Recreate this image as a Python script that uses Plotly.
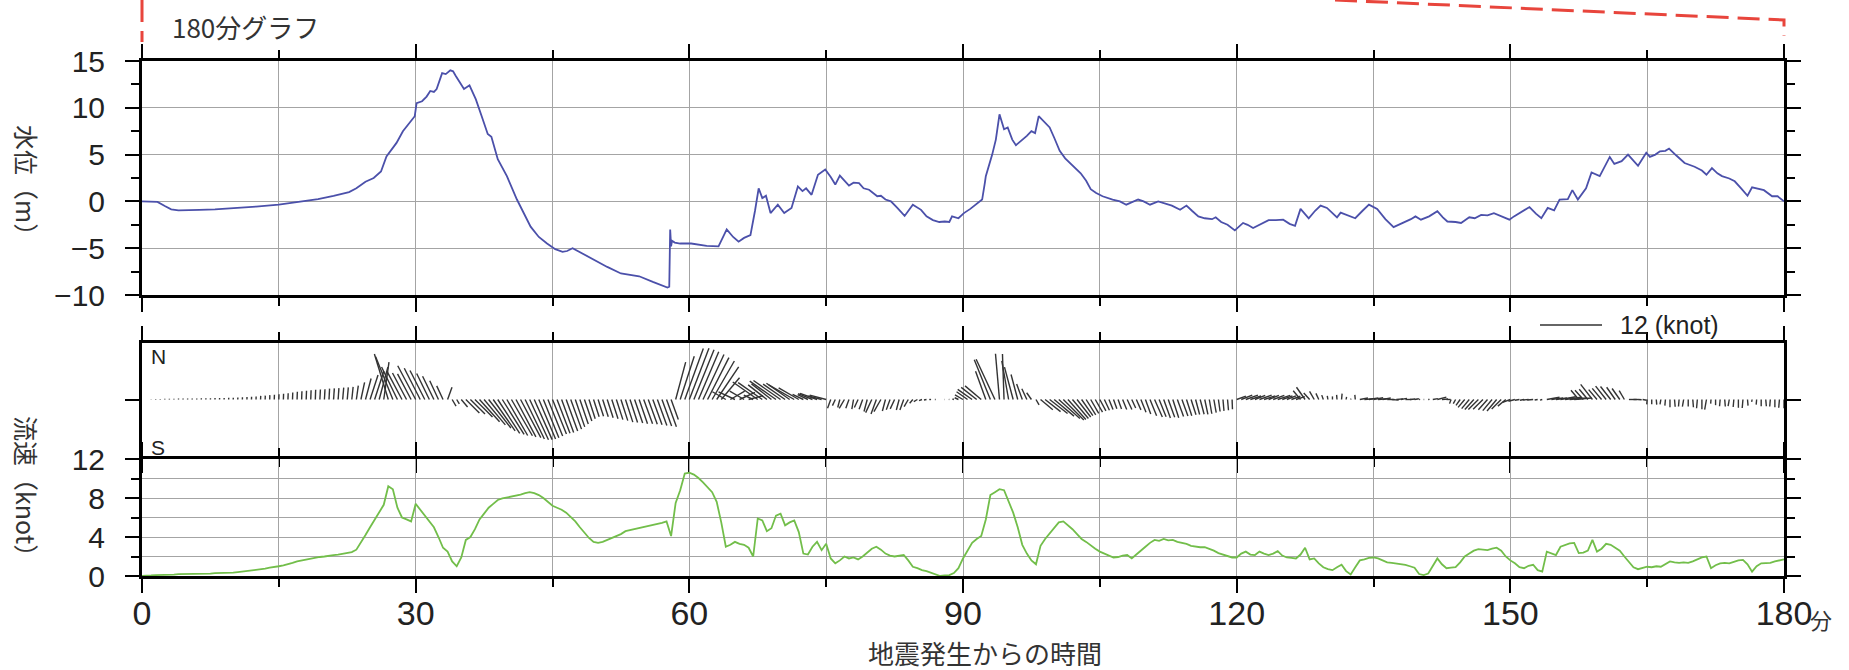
import numpy as np
import plotly.graph_objects as go

# ---------------- data ----------------
# water level (m) at irregular sample times (minutes after the earthquake)
level_time = [0, 1.0, 1.7, 2.5, 3.2, 4.0, 5.0, 6.3, 8.0, 10.6, 12.5, 15, 17, 19.3, 21, 22.7, 23.5, 24.5, 25.4,
              26.2, 26.8, 27.9, 28.6, 29.2, 29.9, 30.1, 30.7, 31.2, 31.6, 32.0, 32.3, 32.9, 33.3, 33.8, 34.1,
              34.4, 34.9, 35.3, 35.9, 36.6, 37.2, 37.9, 38.3, 39.0, 40.0, 41.1, 42.6, 43.5, 44.4, 45.3, 46.1,
              46.6, 47.2, 48.3, 49.6, 51.0, 52.5, 54.5, 56.0, 57.6, 57.8, 57.9, 58.0, 58.1, 58.4, 59.0, 60.2,
              61.0, 61.9, 63.2, 64.1, 64.8, 65.4, 66.0, 66.7, 67.2, 67.6, 68.0, 68.4, 68.9, 69.7, 70.4, 71.2,
              71.9, 72.4, 72.8, 73.4, 74.1, 74.9, 75.5, 76.0, 76.5, 77.0, 77.5, 78.0, 78.6, 79.1, 79.7, 80.6,
              81.0, 81.5, 82.1, 82.8, 83.6, 84.5, 85.4, 86.0, 86.7, 87.4, 88.0, 88.5, 88.8, 89.5, 90.1, 90.8,
              91.4, 92.1, 92.4, 92.5, 93.2, 93.6, 94.0, 94.3, 94.5, 94.9, 95.4, 95.8, 96.2, 96.6, 97.0, 97.5,
              97.9, 98.3, 98.8, 99.5, 100.0, 100.6, 101.2, 101.9, 102.4, 102.9, 103.5, 104.0, 104.6, 105.3,
              106.4, 107.2, 107.9, 108.5, 109.2, 109.8, 110.5, 111.4, 112.2, 112.9, 113.8, 114.5, 115.1, 115.8,
              116.5, 117.3, 117.7, 118.3, 119.0, 119.8, 120.7, 121.2, 121.8, 122.6, 123.5, 124.3, 125.1, 125.8,
              126.4, 127.0, 127.9, 128.6, 129.2, 129.9, 130.4, 131.0, 131.4, 132.2, 133.0, 133.8, 134.5, 135.4,
              136.3, 137.2, 137.8, 138.5, 139.1, 139.6, 140.2, 141.1, 142.0, 142.6, 143.1, 144.0, 144.6, 145.5,
              146.1, 146.8, 147.5, 148.2, 149.0, 149.9, 150.4, 151.0, 152.1, 152.8, 153.4, 154.1, 154.8, 155.4,
              156.3, 156.8, 157.4, 158.3, 158.9, 159.8, 160.9, 161.4, 162.2, 162.9, 163.4, 164.0, 164.9, 165.3,
              165.9, 166.4, 167.0, 167.4, 168.2, 169.1, 170.2, 171.0, 171.5, 172.1, 172.7, 173.2, 174.0, 174.6,
              175.3, 176.0, 176.5, 177.2, 177.8, 178.7, 179.3, 180]
level_m = [0.0, 0.0, -0.05, -0.5, -0.85, -0.95, -0.95, -0.9, -0.85, -0.7, -0.55, -0.35, -0.1, 0.25, 0.6, 1.0, 1.4,
           2.1, 2.5, 3.2, 4.8, 6.25, 7.5, 8.2, 9.1, 10.5, 10.7, 11.2, 11.8, 11.7, 12.0, 13.7, 13.6, 14.0, 13.9,
           13.4, 12.6, 12.0, 12.4, 10.9, 9.2, 7.2, 6.9, 4.5, 2.7, 0.2, -2.7, -3.8, -4.5, -5.1, -5.4,
           -5.3, -5.0, -5.6, -6.25, -7.0, -7.7, -8.0, -8.6, -9.2, -9.1, -3.0, -4.8, -4.2, -4.4, -4.5, -4.5,
           -4.6, -4.75, -4.8, -3.0, -3.8, -4.3, -3.9, -3.6, -1.0, 1.4, 0.35, 0.6, -1.25, -0.35, -1.25, -0.7,
           1.6, 1.1, 1.4, 0.7, 2.85, 3.4, 2.6, 1.8, 2.75, 2.2, 1.7, 2.0, 1.95, 1.4, 1.25, 0.55,
           0.6, 0.2, 0.0, -0.7, -1.55, -0.35, -0.9, -1.6, -2.0, -2.2, -2.15, -2.2, -1.6, -1.8, -1.25, -0.8,
           -0.35, 0.2, 2.0, 2.7, 5.0, 6.6, 9.3, 8.2, 7.7, 7.9, 6.6, 6.0, 6.3, 6.6, 7.0, 7.5,
           7.3, 9.1, 8.6, 7.9, 6.8, 5.4, 4.6, 3.9, 3.5, 3.0, 2.2, 1.3, 0.9, 0.55,
           0.2, 0.0, -0.35, -0.1, 0.2, 0.0, -0.35, 0.0, -0.2, -0.45, -0.9, -0.45, -1.0, -1.6,
           -1.8, -1.9, -1.7, -2.2, -2.5, -3.1, -2.3, -2.5, -2.85, -2.45, -2.0, -2.0, -1.95, -2.4,
           -2.6, -0.8, -1.8, -1.0, -0.45, -0.7, -1.2, -1.7, -1.2, -1.5, -1.8, -1.0, -0.35, -0.8,
           -1.9, -2.75, -2.5, -2.15, -1.9, -1.6, -1.95, -1.6, -1.05, -1.7, -2.15, -2.2, -2.3, -1.7,
           -1.8, -1.45, -1.5, -1.25, -1.6, -1.95, -1.6, -1.25, -0.6, -1.3, -1.8, -0.7, -0.95, 0.2,
           0.25, 1.2, 0.2, 1.4, 3.1, 2.7, 4.75, 4.0, 4.3, 5.0, 4.5, 3.8, 5.2, 4.75,
           5.0, 5.35, 5.4, 5.65, 4.9, 4.1, 3.7, 3.3, 2.85, 3.55, 3.0, 2.7, 2.45, 2.15,
           1.4, 0.6, 1.5, 1.3, 1.2, 0.55, 0.55, 0.0]

# current speed (knot), one value every 0.5 minute from 0 to 180
speed_knot = [
    0.0, 0.0, 0.05, 0.1, 0.1, 0.15, 0.15, 0.15, 0.2, 0.2, 0.2, 0.2, 0.2, 0.25, 0.25, 0.25, 0.3, 0.3, 0.3, 0.35,
    0.35, 0.4, 0.45, 0.5, 0.55, 0.6, 0.7, 0.75, 0.85, 0.9,
    1.0, 1.1, 1.2, 1.35, 1.5, 1.6, 1.7, 1.8, 1.9, 1.95, 2.0, 2.1, 2.15, 2.2, 2.3, 2.35, 2.45, 2.7, 3.4, 4.2,
    5.0, 5.8, 6.5, 7.3, 9.2, 8.9, 7.0, 6.0, 5.8, 5.6,
    7.4, 6.8, 6.3, 5.6, 5.0, 4.0, 2.9, 2.5, 1.5, 1.0, 1.9, 3.7, 4.0, 4.8, 5.8, 6.4, 7.0, 7.4, 7.8, 7.95,
    8.05, 8.1, 8.2, 8.35, 8.5, 8.6, 8.5, 8.3, 8.0, 7.6,
    7.2, 7.0, 6.8, 6.5, 6.1, 5.6, 5.0, 4.4, 3.9, 3.5, 3.4, 3.5, 3.7, 3.9, 4.1, 4.3, 4.6, 4.7, 4.8, 4.95,
    5.0, 5.1, 5.2, 5.35, 5.45, 5.6, 4.1, 7.5, 8.8, 10.5,
    10.6, 10.4, 10.05, 9.6, 9.1, 8.6, 7.6, 5.5, 3.0, 3.2, 3.5, 3.3, 3.2, 2.9, 2.0, 5.9, 5.7, 4.6, 4.9, 6.2,
    6.4, 5.2, 5.5, 5.7, 4.5, 2.3, 2.2, 3.0, 3.5, 2.65,
    3.3, 1.8, 1.3, 1.6, 2.0, 1.8, 1.9, 1.7, 2.0, 2.4, 2.8, 3.0, 2.7, 2.3, 2.1, 2.0, 2.1, 2.15, 1.6, 0.95,
    0.8, 0.6, 0.5, 0.35, 0.15, 0.0, 0.05, 0.1, 0.3, 0.8,
    1.8, 2.6, 3.4, 3.8, 4.1, 5.8, 8.3, 8.6, 8.9, 8.8, 7.6, 6.5, 5.0, 3.2, 2.3, 1.6, 1.2, 3.1, 3.8, 4.4,
    5.0, 5.5, 5.6, 5.2, 4.8, 4.3, 3.8, 3.5, 3.1, 2.8,
    2.5, 2.3, 2.1, 1.9, 1.95, 2.1, 2.15, 1.8, 2.2, 2.65, 3.0, 3.4, 3.7, 3.6, 3.8, 3.65, 3.7, 3.5, 3.4, 3.3,
    3.1, 3.0, 2.95, 2.95, 2.8, 2.6, 2.35, 2.2, 2.1, 1.9,
    1.9, 2.3, 2.5, 2.2, 2.15, 2.5, 2.3, 2.15, 2.3, 2.55, 2.1, 1.9, 1.85, 1.8, 2.2, 2.9, 1.7, 1.8, 1.3, 0.9,
    0.7, 0.6, 0.9, 1.15, 0.5, 0.15, 0.9, 1.6, 1.7, 1.85,
    1.9, 1.8, 1.6, 1.4, 1.35, 1.3, 1.2, 1.15, 1.0, 0.85, 0.2, 0.1, 0.25, 1.0, 1.8, 1.2, 0.8, 0.85, 0.9, 1.4,
    2.0, 2.3, 2.6, 2.75, 2.7, 2.65, 2.8, 2.9, 2.6, 2.0,
    1.6, 1.3, 0.9, 0.8, 1.05, 1.15, 0.6, 0.45, 2.5, 2.3, 2.15, 3.0, 3.2, 3.35, 3.4, 2.35, 2.4, 2.6, 3.7, 2.5,
    2.8, 3.3, 3.2, 2.9, 2.6, 2.0, 1.5, 0.9, 0.7, 0.8,
    0.95, 0.9, 1.0, 0.95, 1.2, 1.5, 1.4, 1.35, 1.4, 1.35, 1.5, 1.7, 1.9, 2.0, 0.8, 1.1, 1.3, 1.35, 1.3, 1.45,
    1.6, 1.65, 1.2, 0.45, 1.0, 1.3, 1.3, 1.35, 1.5, 1.6, 1.7]

# current direction (degrees clockwise from north, direction the flow goes to), same times
bearing_deg = [
    2, 2, 2, 2, 2, 2, 2, 2, 2, 2, 2, 2, 2, 2, 2, 2, 2, 2, 2, 2, 2, 2, 2, 2, 2, 2, 2, 2, 2, 2,
    2, 2, 2, 2, 2, 2, 2, 2, 2, 3, 3, 3, 4, 4, 5, 5, 6, 8, 12, 15, 18, 18, 15, 8, 343, 338, 334, 332, 332, 332,
    332, 333, 333, 334, 334, 335, 335, 20, 150, 150, 140, 135, 135, 135, 138, 140, 142, 145, 147, 148,
    150, 150, 152, 152, 154, 155, 156, 157, 158, 158,
    158, 159, 160, 160, 160, 161, 161, 161, 162, 162, 162, 162, 162, 162, 162, 162, 162, 162, 161, 161,
    160, 160, 160, 160, 160, 160, 160, 15, 18, 20,
    21, 22, 23, 25, 27, 30, 34, 40, 300, 60, 295, 65, 300, 75, 295, 305, 305, 308, 308, 305,
    305, 305, 305, 300, 300, 295, 295, 292, 290, 285,
    285, 200, 205, 195, 210, 200, 190, 205, 200, 195, 205, 200, 210, 195, 200, 205, 195, 200, 210, 220,
    240, 250, 260, 270, 270, 270, 270, 280, 290, 295,
    300, 305, 305, 308, 310, 340, 338, 335, 355, 358, 350, 345, 345, 340, 335, 325, 150, 130, 128, 128,
    130, 132, 135, 138, 140, 142, 145, 148, 150, 150,
    152, 155, 158, 160, 160, 158, 155, 155, 156, 158, 160, 158, 156, 158, 160, 160, 162, 160, 160, 162,
    162, 165, 165, 168, 170, 170, 172, 175, 175, 178,
    70, 68, 70, 72, 68, 70, 72, 68, 70, 72, 70, 68, 70, 72, 320, 325, 318, 330, 335, 340,
    350, 0, 355, 5, 10, 10, 355, 80, 85, 80,
    80, 85, 80, 90, 95, 85, 80, 90, 85, 80, 80, 90, 85, 80, 75, 85, 90, 200, 210, 215,
    220, 220, 222, 225, 225, 222, 220, 220, 225, 230,
    250, 255, 260, 260, 265, 265, 260, 255, 80, 82, 82, 80, 82, 85, 85, 320, 318, 320, 322, 320,
    320, 322, 322, 325, 325, 330, 90, 90, 95, 100,
    185, 180, 175, 190, 185, 180, 175, 185, 190, 180, 175, 185, 180, 190, 185, 180, 185, 175, 190, 185,
    180, 185, 175, 190, 185, 180, 175, 185, 180, 185, 180]

speed_time = np.arange(len(speed_knot)) * 0.5

x_tick_vals = [0, 30, 60, 90, 120, 150, 180]
x_tick_text = ["0", "30", "60", "90", "120", "150", "180"]

# ---------------- layout geometry ----------------
FIG_W, FIG_H = 1849, 670
ML, MR, MT, MB = 142, 65, 61, 94
PW, PH = FIG_W - ML - MR, FIG_H - MT - MB


def px_x(p):
    return (p - ML) / PW


def px_y(p):
    return (FIG_H - MB - p) / PH


VEC_TOP, VEC_BOT = 343, 456
dom_top = [px_y(295), 1.0]
dom_vec = [px_y(VEC_BOT), px_y(VEC_TOP)]
dom_spd = [0.0, px_y(459)]

VEC_PX_PER_KNOT = 62 / 12.0
vec_half_px = (VEC_BOT - VEC_TOP) / 2.0
vec_range = vec_half_px / VEC_PX_PER_KNOT
px_per_min = PW / 180.0
min_per_knot = VEC_PX_PER_KNOT / px_per_min

# vector sticks
spd = np.array(speed_knot, dtype=float)
brg = np.radians(np.array(bearing_deg, dtype=float))
u = spd * np.sin(brg)
v = spd * np.cos(brg)
vx, vy = [], []
for t, uu, vv in zip(speed_time, u, v):
    vx += [t, t + uu * min_per_knot, None]
    vy += [0.0, vv, None]

TICK_FONT = "Liberation Sans, Arial, Helvetica, sans-serif"
JP_FONT = "Noto Sans CJK JP, Noto Sans CJK SC, sans-serif"
GRID = "#a4a4a4"

fig = go.Figure()
fig.add_trace(go.Scatter(x=level_time, y=level_m, mode="lines",
                         line=dict(color="#4b50aa", width=1.8), xaxis="x", yaxis="y", showlegend=False))
fig.add_trace(go.Scatter(x=vx, y=vy, mode="lines",
                         line=dict(color="#333333", width=1.4), xaxis="x2", yaxis="y2", showlegend=False))
fig.add_trace(go.Scatter(x=speed_time, y=speed_knot, mode="lines",
                         line=dict(color="#72be4a", width=1.8), xaxis="x3", yaxis="y3", showlegend=False))

xcommon = dict(range=[0, 180], tick0=0, dtick=30, ticks="outside", ticklen=14, tickwidth=2,
               tickcolor="black", showline=True, linewidth=3, linecolor="black", mirror="ticks",
               showgrid=True, gridcolor=GRID, gridwidth=1.2, zeroline=False,
               minor=dict(tick0=0, dtick=15, ticks="outside", ticklen=8, tickwidth=2, tickcolor="black",
                          showgrid=True, gridcolor=GRID, gridwidth=1.2))

fig.update_layout(
    width=FIG_W, height=FIG_H,
    margin=dict(l=ML, r=MR, t=MT, b=MB),
    paper_bgcolor="white", plot_bgcolor="white",
    showlegend=False,
    xaxis=dict(xcommon, domain=[0, 1], anchor="y", showticklabels=False),
    xaxis2=dict(xcommon, domain=[0, 1], anchor="y2", showticklabels=False, matches="x"),
    xaxis3=dict(xcommon, domain=[0, 1], anchor="y3", matches="x",
                tickvals=x_tick_vals, ticktext=x_tick_text, tickmode="array",
                tickfont=dict(family=TICK_FONT, size=34, color="#222"), ticklabelstandoff=-9),
    yaxis=dict(domain=dom_top, anchor="x", range=[-10, 15], tick0=0, dtick=5,
               ticks="outside", ticklen=14, tickwidth=2, tickcolor="black",
               showline=True, linewidth=3, linecolor="black", mirror="ticks",
               showgrid=True, gridcolor=GRID, gridwidth=1.2, zeroline=False,
               tickfont=dict(family=TICK_FONT, size=30, color="#222"), ticklabelstandoff=14,
               minor=dict(tick0=0, dtick=2.5, ticks="outside", ticklen=8, tickwidth=2,
                          tickcolor="black", showgrid=False)),
    yaxis2=dict(domain=dom_vec, anchor="x2", range=[-vec_range, vec_range],
                tickmode="array", tickvals=[0], ticktext=[""],
                ticks="outside", ticklen=14, tickwidth=2, tickcolor="black",
                showline=True, linewidth=3, linecolor="black", mirror="ticks",
                showgrid=False, zeroline=False),
    yaxis3=dict(domain=dom_spd, anchor="x3", range=[0, 12], tick0=0, dtick=4,
                ticks="outside", ticklen=14, tickwidth=2, tickcolor="black",
                showline=True, linewidth=3, linecolor="black", mirror="ticks",
                showgrid=True, gridcolor=GRID, gridwidth=1.2, zeroline=False,
                tickfont=dict(family=TICK_FONT, size=30, color="#222"), ticklabelstandoff=14,
                minor=dict(tick0=0, dtick=2, ticks="outside", ticklen=8, tickwidth=2,
                           tickcolor="black", showgrid=True, gridcolor=GRID, gridwidth=1.2)),
)

ann = []
ann.append(dict(x=px_x(245), y=px_y(26), xref="paper", yref="paper", text="180分グラフ",
                showarrow=False, font=dict(family=JP_FONT, size=26, color="#333"),
                xanchor="center", yanchor="middle"))
ann.append(dict(x=px_x(27), y=px_y(186), xref="paper", yref="paper", text="水位（m）",
                showarrow=False, textangle=90, font=dict(family=JP_FONT, size=25, color="#333"),
                xanchor="center", yanchor="middle"))
ann.append(dict(x=px_x(27), y=px_y(492), xref="paper", yref="paper", text="流速（knot）",
                showarrow=False, textangle=90, font=dict(family=JP_FONT, size=25, color="#333"),
                xanchor="center", yanchor="middle"))
ann.append(dict(x=px_x(985), y=px_y(652), xref="paper", yref="paper", text="地震発生からの時間",
                showarrow=False, font=dict(family=JP_FONT, size=26, color="#333"),
                xanchor="center", yanchor="middle"))
ann.append(dict(x=px_x(1808), y=px_y(619), xref="paper", yref="paper", text="分",
                showarrow=False, font=dict(family=JP_FONT, size=22, color="#333"),
                xanchor="left", yanchor="middle"))
ann.append(dict(x=px_x(149), y=px_y(356), xref="paper", yref="paper", text="N",
                showarrow=False, font=dict(family=TICK_FONT, size=21, color="#222"),
                xanchor="left", yanchor="middle"))
ann.append(dict(x=px_x(149), y=px_y(447), xref="paper", yref="paper", text="S",
                showarrow=False, font=dict(family=TICK_FONT, size=21, color="#222"),
                xanchor="left", yanchor="middle"))
legend_t0 = (1540 - ML) / px_per_min
legend_t1 = legend_t0 + 12 * min_per_knot
ann.append(dict(x=legend_t1, y=px_y(325), xref="x2", yref="paper", text="12 (knot)",
                showarrow=False, font=dict(family=TICK_FONT, size=25, color="#222"),
                xanchor="left", yanchor="middle", xshift=16))
fig.update_layout(annotations=ann)

RED = "#e8453c"
shapes = [
    dict(type="line", xref="x2", yref="paper", x0=legend_t0, x1=legend_t1, y0=px_y(325), y1=px_y(325),
         line=dict(color="#666666", width=2)),
    dict(type="line", xref="paper", yref="paper", x0=0, x1=0, y0=px_y(0), y1=px_y(42),
         line=dict(color=RED, width=3, dash="22px,9px")),
    dict(type="path", xref="paper", yref="paper",
         path=f"M {px_x(1335)},{px_y(0)} L 1,{px_y(20)} L 1,{px_y(36)}",
         line=dict(color=RED, width=3, dash="22px,9px")),
]
fig.update_layout(shapes=shapes)

fig.write_html("out.html", config={"displayModeBar": False},
               post_script="document.body.style.margin='0';document.body.style.overflow='hidden';")
